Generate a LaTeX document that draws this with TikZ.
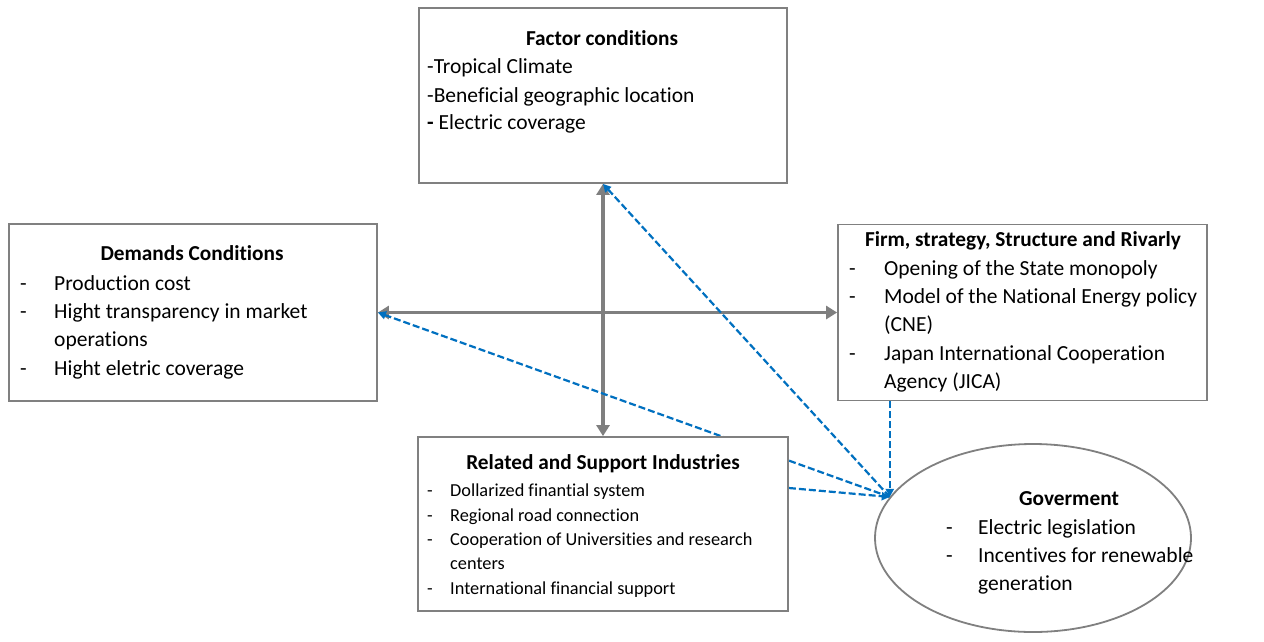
\documentclass[tikz,border=0pt]{standalone}
\usepackage{fontspec}
\setmainfont[Ligatures={NoCommon,NoRare,NoContextual,NoRequired},RawFeature={-ccmp;-locl}]{Carlito}
\usetikzlibrary{arrows.meta,backgrounds,shapes.geometric}
\definecolor{boxgray}{RGB}{128,128,128}
\definecolor{forcegray}{RGB}{127,127,127}
\definecolor{linkblue}{RGB}{0,112,192}
\tikzset{
  box/.style={draw=boxgray, line width=1.8pt, fill=white, inner sep=0pt},
  head/.style={font=\bfseries\fontsize{21.3}{25}\selectfont, anchor=base, inner sep=0pt},
  item/.style={font=\fontsize{21.5}{25}\selectfont, anchor=base west, inner sep=0pt},
  smallitem/.style={font=\fontsize{18.3}{21}\selectfont, anchor=base west, inner sep=0pt},
  force/.style={draw=forcegray, line width=3.5pt, {Triangle[length=11pt,width=13pt]}-{Triangle[length=11pt,width=13pt]}},
  link/.style={draw=linkblue, line width=2.2pt, dash pattern=on 7pt off 3pt, -{Triangle[length=8pt,width=8pt]}}
}
\begin{document}
\begin{tikzpicture}[x=1pt,y=-1pt]
\useasboundingbox (0,0) rectangle (1264,641);
\node[box, minimum width=368pt, minimum height=175pt] (fac) at (603,95.5){};
\node[box, minimum width=368pt, minimum height=177pt] (dem) at (193,312.5){};
\node[box, minimum width=369pt, minimum height=176pt] (firm) at (1022.5,312.5){};
\node[box, minimum width=370pt, minimum height=174pt] (rel) at (603,524){};
\node[box, ellipse, minimum width=316pt, minimum height=188pt] (gov) at (1033,538){};
\coordinate (gpt) at (gov.164);
\begin{pgfonlayer}{background}
\fill[white] (0,0) rectangle (1264,641);
\draw[force] (fac.south) -- (fac.south |- rel.north);
\draw[force] (dem.east) -- (firm.west);
\draw[link] (gpt) -- (fac.south);
\draw[link] (gpt) -- (dem.east);
\draw[link] (firm.south -| gpt) -- (gpt);
\draw[link] ([yshift=36pt]rel.east) -- (gpt);
\end{pgfonlayer}
\node[head] (fac0) at (602,45.3){Factor conditions};
\node[item] (fac1) at (427,73.7){-Tropical Climate};
\node[item] (fac2) at (427,102){-Beneficial geographic location};
\node[item] (fac3) at (427,129.7){{\bfseries -} Electric coverage};
\node[head] (dem0) at (192,260.7){Demands Conditions};
\foreach \y/\t [count=\i] in {290/Production cost, 318.3/Hight transparency in market, 346.7/operations, 375/Hight eletric coverage}
  \node[item] (dem\i) at (54,\y){\t};
\foreach \y [count=\i] in {290,318.3,375}
  \node[item] (demd\i) at (20,\y){-};
\node[head] (firm0) at (1023,246.7){Firm, strategy, Structure and Rivarly};
\foreach \y/\t [count=\i] in {275/Opening of the State monopoly, 303.3/Model of the National Energy policy, 331.7/(CNE), 360/Japan International Cooperation, 388.3/Agency (JICA)}
  \node[item] (firm\i) at (884,\y){\t};
\foreach \y [count=\i] in {275,303.3,360}
  \node[item] (firmd\i) at (849,\y){-};
\node[head] (rel0) at (603,469.3){Related and Support Industries};
\foreach \y/\t [count=\i] in {496.7/Dollarized finantial system, 521.1/Regional road connection, 545.5/Cooperation of Universities and research, 569.9/centers, 594.3/International financial support}
  \node[smallitem] (rel\i) at (450,\y){\t};
\foreach \y [count=\i] in {496.7,521.1,545.5,594.3}
  \node[smallitem] (reld\i) at (427,\y){-};
\node[head] (gov0) at (1069,505){Goverment};
\foreach \y/\t [count=\i] in {534.3/Electric legislation, 562.7/Incentives for renewable, 590/generation}
  \node[item] (gov\i) at (978,\y){\t};
\foreach \y [count=\i] in {534.3,562.7}
  \node[item] (govd\i) at (946,\y){-};
\end{tikzpicture}
\end{document}
